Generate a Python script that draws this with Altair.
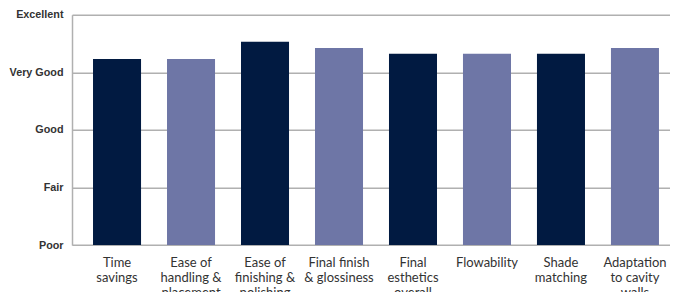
import json
import altair as alt
import pandas as pd

categories = [
    "Time|savings",
    "Ease of|handling &|placement",
    "Ease of|finishing &|polishing",
    "Final finish|& glossiness",
    "Final|esthetics|overall",
    "Flowability",
    "Shade|matching",
    "Adaptation|to cavity|walls",
]
scores = [4.23, 4.23, 4.53, 4.42, 4.32, 4.32, 4.32, 4.42]
shades = ["dark", "light", "dark", "light", "dark", "light", "dark", "light"]
rating_labels = ["Poor", "Fair", "Good", "Very Good", "Excellent"]
rating_values = [1, 2, 3, 4, 5]

df = pd.DataFrame({
    "category": categories,
    "score": scores,
    "shade": shades,
    "base": [rating_values[0]] * len(categories),
})

label_expr = json.dumps(rating_labels) + "[datum.value - 1]"

chart = alt.Chart(df).mark_bar().encode(
    x=alt.X(
        "category:N",
        sort=categories,
        title=None,
        scale=alt.Scale(paddingInner=0.351, paddingOuter=0.284, range=[0, 608]),
        axis=alt.Axis(
            labelAngle=0,
            labelExpr="split(datum.label, '|')",
            labelFont="Lato",
            labelFontSize=13,
            labelColor="#333333",
            labelLineHeight=15,
            labelBaseline="top",
            labelPadding=11,
            ticks=False,
            domain=False,
            grid=False,
            labelLimit=200,
        ),
    ),
    y=alt.Y(
        "score:Q",
        title=None,
        scale=alt.Scale(domain=[1, 5], nice=False, zero=False),
        axis=alt.Axis(
            values=rating_values,
            labelExpr=label_expr,
            labelFont="Liberation Sans",
            labelFontWeight="bold",
            labelFontSize=10.8,
            labelColor="#333333",
            labelPadding=9,
            ticks=False,
            domain=True,
            domainColor="#b0b0b0",
            domainWidth=1.5,
            grid=True,
            gridColor="#b0b0b0",
            gridWidth=1.5,
        ),
    ),
    y2="base:Q",
    color=alt.Color(
        "shade:N",
        scale=alt.Scale(domain=["dark", "light"], range=["#011a41", "#6e76a6"]),
        legend=None,
    ),
).properties(
    width=598,
    height=230.4,
    autosize=alt.AutoSizeParams(type="none"),
    padding={"left": 64, "top": 6.7, "right": 0, "bottom": 52},
).configure_view(stroke=None)

chart.save("out.html", embed_options={"renderer": "svg", "actions": False})
